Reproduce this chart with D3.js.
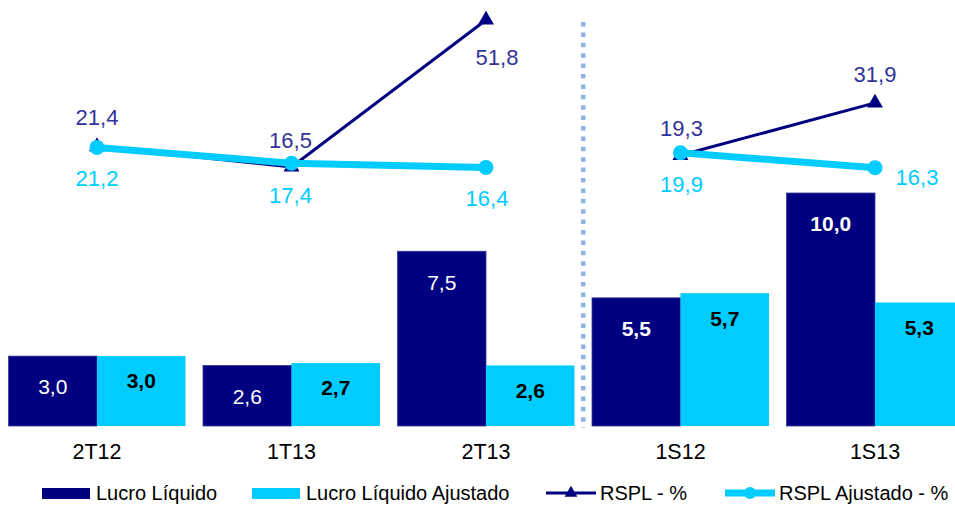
<!DOCTYPE html>
<html>
<head>
<meta charset="utf-8">
<script src="https://cdn.jsdelivr.net/npm/d3@7/dist/d3.min.js"></script>
<style>
  html, body { margin: 0; padding: 0; background: #fff; }
  svg { display: block; font-family: "Liberation Sans", Arial, sans-serif; }
</style>
</head>
<body>
<svg id="chart" width="955" height="505"></svg>
<script>
// ---- data ----
const categories = ["2T12", "1T13", "2T13", "1S12", "1S13"];
const lucroLiquido = [3.0, 2.6, 7.5, 5.5, 10.0];
const lucroLiquidoAjustado = [3.0, 2.7, 2.6, 5.7, 5.3];
const rspl = [21.4, 16.5, 51.8, 19.3, 31.9];
const rsplAjustado = [21.2, 17.4, 16.4, 19.9, 16.3];
const lineGroups = [[0, 1, 2], [3, 4]];
const seriesNames = ["Lucro Líquido", "Lucro Líquido Ajustado", "RSPL - %", "RSPL Ajustado - %"];

// ---- style ----
const NAVY = "#000080", CYAN = "#00CCFF", NAVY_LABEL = "#333399", SEP = "#8DB3E2";
const fmt = v => d3.format(".1f")(v).replace(".", ",");

const svg = d3.select("#chart");

const x = d3.scaleBand().domain(categories).range([-0.25, 972.25]).paddingInner(0.09).paddingOuter(0.045);
const xs = d3.scaleBand().domain(["ll", "la"]).range([0, x.bandwidth()]);
const yBar = d3.scaleLinear().domain([0, 10]).range([426, 193]);
const yLine = d3.scaleLinear().domain([0, 60]).range([235.7, -14.2]);
const cx = c => x(c) + x.bandwidth() / 2;

// bars
const barSeries = [
  { key: "ll", values: lucroLiquido, color: NAVY },
  { key: "la", values: lucroLiquidoAjustado, color: CYAN }
];
barSeries.forEach(s => {
  svg.append("g").selectAll("rect").data(categories).join("rect")
    .attr("x", c => x(c) + xs(s.key))
    .attr("y", (c, i) => yBar(s.values[i]))
    .attr("width", xs.bandwidth())
    .attr("height", (c, i) => yBar(0) - yBar(s.values[i]))
    .attr("fill", s.color)
    .attr("stroke", s.key === "ll" ? "#3a3a9a" : "none")
    .attr("stroke-width", 0.8);
});

// bar labels
const darkBold = [false, false, false, true, true];
svg.append("g").selectAll("text").data(categories).join("text")
  .attr("x", c => x(c) + xs("ll") + xs.bandwidth() / 2)
  .attr("y", (c, i) => yBar(lucroLiquido[i]) + 31)
  .attr("dy", "0.35em")
  .attr("text-anchor", "middle")
  .attr("font-size", 21)
  .attr("font-weight", (c, i) => darkBold[i] ? "bold" : "normal")
  .attr("fill", "#fff")
  .text((c, i) => fmt(lucroLiquido[i]));
svg.append("g").selectAll("text").data(categories).join("text")
  .attr("x", c => x(c) + xs("la") + xs.bandwidth() / 2)
  .attr("y", (c, i) => yBar(lucroLiquidoAjustado[i]) + 25)
  .attr("dy", "0.35em")
  .attr("text-anchor", "middle")
  .attr("font-size", 21)
  .attr("font-weight", "bold")
  .attr("fill", "#000")
  .text((c, i) => fmt(lucroLiquidoAjustado[i]));

// separator
const sepX = (x("2T13") + x.bandwidth() + x("1S12")) / 2;
svg.append("line")
  .attr("x1", sepX).attr("x2", sepX)
  .attr("y1", 22).attr("y2", 428)
  .attr("stroke", SEP).attr("stroke-width", 4.5)
  .attr("stroke-dasharray", "4.5 5.9");

// category axis
const xAxis = d3.axisBottom(x).tickSize(0).tickPadding(0);
const gx = svg.append("g").attr("transform", "translate(0,451)").call(xAxis);
gx.select(".domain").remove();
gx.selectAll("text").attr("font-size", 21.5).attr("fill", "#000").attr("dy", "0.35em")
  .attr("font-family", "Liberation Sans, Arial, sans-serif");

// lines
const line = d3.line().x(d => cx(categories[d.i])).y(d => yLine(d.v));
function drawLine(values, color, width) {
  lineGroups.forEach(g => {
    svg.append("path")
      .datum(g.map(i => ({ i, v: values[i] })))
      .attr("d", line)
      .attr("fill", "none")
      .attr("stroke", color)
      .attr("stroke-width", width)
      .attr("stroke-linejoin", "round");
  });
}
drawLine(rspl, NAVY, 3);
const tri = d3.symbol().type(d3.symbolTriangle).size(110);
svg.append("g").selectAll("path").data(rspl).join("path")
  .attr("d", tri)
  .attr("transform", (v, i) => `translate(${cx(categories[i])},${yLine(v)})`)
  .attr("fill", NAVY);
drawLine(rsplAjustado, CYAN, 7);
svg.append("g").selectAll("circle").data(rsplAjustado).join("circle")
  .attr("cx", (v, i) => cx(categories[i]))
  .attr("cy", v => yLine(v))
  .attr("r", 7.5)
  .attr("fill", CYAN);

// line labels
const rsplOff = [[0, -29], [-1, -27], [11, 37], [1, -27], [0, -29]];
const rsplAjOff = [[0, 31], [-1, 32], [1, 31], [1, 31], [42, 9]];
svg.append("g").selectAll("text").data(rspl).join("text")
  .attr("x", (v, i) => cx(categories[i]) + rsplOff[i][0])
  .attr("y", (v, i) => yLine(v) + rsplOff[i][1])
  .attr("dy", "0.35em").attr("text-anchor", "middle")
  .attr("font-size", 22).attr("fill", NAVY_LABEL)
  .text(v => fmt(v));
svg.append("g").selectAll("text").data(rsplAjustado).join("text")
  .attr("x", (v, i) => cx(categories[i]) + rsplAjOff[i][0])
  .attr("y", (v, i) => yLine(v) + rsplAjOff[i][1])
  .attr("dy", "0.35em").attr("text-anchor", "middle")
  .attr("font-size", 22).attr("fill", CYAN)
  .text(v => fmt(v));

// legend
const legendItems = [
  { name: seriesNames[0], type: "rect", color: NAVY, x: 42 },
  { name: seriesNames[1], type: "rect", color: CYAN, x: 252 },
  { name: seriesNames[2], type: "tri", color: NAVY, x: 546 },
  { name: seriesNames[3], type: "circ", color: CYAN, x: 725 }
];
const lg = svg.append("g").attr("transform", "translate(0,493)");
legendItems.forEach(it => {
  const g = lg.append("g").attr("transform", `translate(${it.x},0)`);
  if (it.type === "rect") {
    g.append("rect").attr("x", 0).attr("y", -5).attr("width", 48).attr("height", 11).attr("fill", it.color);
    g.append("text").attr("x", 54).attr("dy", "0.35em").attr("font-size", 20).attr("fill", "#000").text(it.name);
  } else {
    g.append("line").attr("x1", 0).attr("x2", 50).attr("y1", 0).attr("y2", 0)
      .attr("stroke", it.color).attr("stroke-width", it.type === "tri" ? 3 : 7);
    if (it.type === "tri") g.append("path").attr("d", d3.symbol().type(d3.symbolTriangle).size(70)).attr("transform", "translate(25,0)").attr("fill", it.color);
    else g.append("circle").attr("cx", 25).attr("r", 6).attr("fill", it.color);
    g.append("text").attr("x", 54).attr("dy", "0.35em").attr("font-size", 20).attr("fill", "#000").text(it.name);
  }
});
</script>
</body>
</html>
